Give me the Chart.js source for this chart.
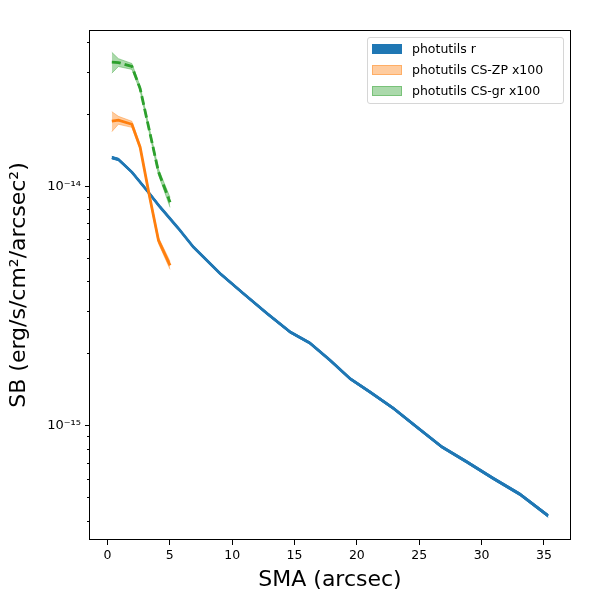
<!DOCTYPE html>
<html>
<head>
<meta charset="utf-8">
<title>SB profile</title>
<script src="https://cdn.jsdelivr.net/npm/chart.js@4.4.1/dist/chart.umd.min.js"></script>
<style>
body { margin: 0; background: #fff; }
#wrap { position: relative; width: 600px; height: 600px; }
#legend { position: absolute; left: 367px; top: 37px; width: 195px; height: 65px; border: 1px solid #d6d6d6; border-radius: 3px; background: rgba(255,255,255,0.8); font-family: 'DejaVu Sans'; font-size: 12.5px; color: #000; }
.item { position: absolute; left: 0; height: 14px; line-height: 14px; white-space: nowrap; }
.box { position: absolute; left: 4px; top: 2px; width: 30px; height: 10px; box-sizing: border-box; }
.txt { position: absolute; left: 44px; top: 0; }
</style>
</head>
<body>
<div id="wrap">
<canvas id="chart" width="600" height="600"></canvas>
<div id="legend"></div>
</div>
<script>
// photutils r
const smaR = [0.35, 0.88, 1.96, 3.16, 4.22, 5.69, 6.89, 9.03, 10.9, 12.79, 14.64, 16.24, 17.84, 19.45, 21.05, 22.94, 24.79, 26.79, 28.80, 30.93, 33.07, 35.34];
const sbR = [1.318e-14, 1.294e-14, 1.146e-14, 9.62e-15, 8.19e-15, 6.66e-15, 5.57e-15, 4.32e-15, 3.56e-15, 2.94e-15, 2.46e-15, 2.21e-15, 1.875e-15, 1.57e-15, 1.38e-15, 1.178e-15, 9.86e-16, 8.15e-16, 7.05e-16, 6.01e-16, 5.16e-16, 4.19e-16];
const errR = [1.6e-16, 1.5e-16, 1.3e-16, 1.1e-16, 9e-17, 7e-17, 6e-17, 5e-17, 4e-17, 3.3e-17, 2.8e-17, 2.5e-17, 2.1e-17, 1.8e-17, 1.6e-17, 1.4e-17, 1.2e-17, 1e-17, 9e-18, 8e-18, 7e-18, 6e-18];

// colour-corrected profiles (x100)
const smaC = [0.35, 0.88, 1.96, 2.62, 3.34, 4.09, 5.02];
const sbZP = [1.871e-14, 1.888e-14, 1.816e-14, 1.456e-14, 9.26e-15, 5.94e-15, 4.67e-15];
const errZP = [1.8e-15, 7.2e-16, 5.3e-16, 2.9e-16, 1.9e-16, 1.7e-16, 1.8e-16];
const sbGR = [3.30e-14, 3.29e-14, 3.17e-14, 2.56e-14, 1.73e-14, 1.15e-14, 8.57e-15];
const errGR = [3.3e-15, 1.25e-15, 9e-16, 6.1e-16, 4.2e-16, 3.2e-16, 4.1e-16];

const xTicks = [0, 5, 10, 15, 20, 25, 30, 35];
const yTicks = [4e-16, 5e-16, 6e-16, 7e-16, 8e-16, 9e-16, 1e-15, 2e-15, 3e-15, 4e-15, 5e-15, 6e-15, 7e-15, 8e-15, 9e-15, 1e-14, 2e-14, 3e-14, 4e-14];
const yLabels = { '-15': '10⁻¹⁵', '-14': '10⁻¹⁴' };

const BLUE = '#1f77b4';
const ORANGE = '#ff7f0e';
const GREEN = '#2ca02c';

function isDecade(v) {
    const l = Math.log10(v);
    return Math.abs(l - Math.round(l)) < 1e-6;
}

function points(xs, ys) {
    return xs.map((x, i) => ({ x, y: ys[i] }));
}

function shifted(ys, err, sign) {
    return ys.map((y, i) => y + sign * err[i]);
}

function lineSet(xs, ys, color, dash) {
    return {
        data: points(xs, ys),
        borderColor: color,
        borderWidth: 2.8,
        borderDash: dash || [],
        fill: false
    };
}

function bandSets(label, xs, ys, err, fillColor, patch) {
    return [
        { label, legend: patch, data: points(xs, shifted(ys, err, 1)), borderColor: fillColor, backgroundColor: fillColor, borderWidth: 1, fill: '+1' },
        { data: points(xs, shifted(ys, err, -1)), borderColor: fillColor, borderWidth: 1, fill: false }
    ];
}

const datasets = [
    lineSet(smaC, sbGR, GREEN, [9, 4]),
    lineSet(smaC, sbZP, ORANGE),
    lineSet(smaR, sbR, BLUE),
    ...bandSets('photutils CS-gr x100', smaC, sbGR, errGR, 'rgba(44,160,44,0.4)', 2),
    ...bandSets('photutils CS-ZP x100', smaC, sbZP, errZP, 'rgba(255,127,14,0.4)', 1),
    ...bandSets('photutils r', smaR, sbR, errR, BLUE, 0)
];

const framePlugin = {
    id: 'frame',
    afterDraw(chart) {
        const { ctx, chartArea: a } = chart;
        const y = chart.scales.y;
        ctx.save();
        ctx.strokeStyle = '#000';
        ctx.lineWidth = 1;
        ctx.strokeRect(Math.round(a.left) - 0.5, Math.round(a.top) + 0.5, Math.round(a.right - a.left) + 1, Math.round(a.bottom - a.top) - 1);
        ctx.beginPath();
        yTicks.filter(v => !isDecade(v)).forEach(v => {
            const py = Math.round(y.getPixelForValue(v)) + 0.5;
            ctx.moveTo(a.left - 3, py);
            ctx.lineTo(a.left, py);
        });
        ctx.stroke();
        ctx.restore();
    }
};

const tickFont = { family: 'DejaVu Sans', size: 12.5 };
const titleFont = { family: 'DejaVu Sans', size: 22 };

const chart = new Chart(document.getElementById('chart'), {
    type: 'line',
    data: { datasets },
    options: {
        responsive: false,
        animation: false,
        layout: { padding: { top: 30, right: 30, left: 0, bottom: 0 } },
        plugins: { legend: { display: false }, tooltip: { enabled: false } },
        elements: { point: { radius: 0 }, line: { tension: 0 } },
        scales: {
            x: {
                type: 'linear',
                min: -1.4,
                max: 37.09,
                afterBuildTicks: s => { s.ticks = xTicks.map(v => ({ value: v })); },
                afterFit: s => { s.height = 60; },
                grid: { drawOnChartArea: false, tickLength: 5, tickColor: '#000' },
                border: { display: false },
                ticks: { color: '#000', font: tickFont, padding: 3, maxRotation: 0, autoSkip: false },
                title: { display: true, text: 'SMA (arcsec)', color: '#000', font: titleFont, padding: { top: 0, bottom: 7 } }
            },
            y: {
                type: 'logarithmic',
                min: 3.32e-16,
                max: 4.5e-14,
                afterBuildTicks: s => { s.ticks = yTicks.map(v => ({ value: v, major: isDecade(v) })); },
                afterFit: s => { s.width = 90; },
                grid: {
                    drawOnChartArea: false,
                    tickLength: 5,
                    tickColor: c => (c.tick && isDecade(c.tick.value)) ? '#000' : 'rgba(0,0,0,0)'
                },
                border: { display: false },
                ticks: {
                    color: '#000',
                    font: { family: 'DejaVu Sans', size: 13 },
                    padding: 4,
                    autoSkip: false,
                    callback: v => isDecade(v) ? yLabels[Math.round(Math.log10(v))] : ''
                },
                title: { display: true, text: 'SB (erg/s/cm²/arcsec²)', color: '#000', font: titleFont, padding: { top: 6, bottom: 0 } }
            }
        }
    },
    plugins: [framePlugin]
});

function buildLegend() {
    const legend = document.getElementById('legend');
    const items = chart.data.datasets.filter(d => d.label).sort((a, b) => a.legend - b.legend);
    legend.innerHTML = '';
    items.forEach((d, i) => {
        const row = document.createElement('div');
        row.className = 'item';
        row.style.top = `${4 + i * 21}px`;
        const box = d.backgroundColor === BLUE ? `background:${BLUE}` : `background:${d.backgroundColor};border:1px solid ${d.backgroundColor}`;
        row.innerHTML = `<span class="box" style="${box}"></span><span class="txt">${d.label}</span>`;
        legend.appendChild(row);
    });
}

buildLegend();
</script>
</body>
</html>
